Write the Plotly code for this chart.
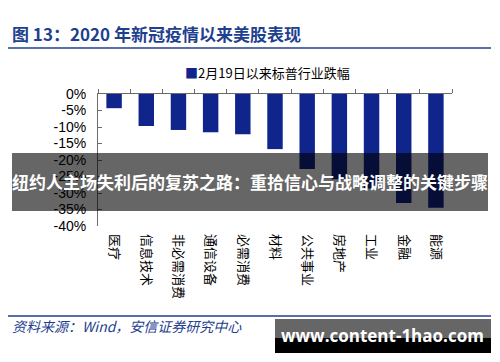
import plotly.graph_objects as go

categories = ["医疗", "信息技术", "非必需消费", "通信设备", "必需消费", "材料",
              "公共事业", "房地产", "工业", "金融", "能源"]
declines = [-4.3, -9.7, -10.9, -11.6, -12.2, -16.7, -22.7, -25.8, -28.6, -33.0, -34.5]
y_ticks = [0, -5, -10, -15, -20, -25, -30, -35, -40]
y_ticklabels = [f"{v}%" for v in y_ticks]
series_name = "2月19日以来标普行业跌幅"

W_FIG, H_FIG = 500, 362
L, R, T, B = 98, 48, 94, 136
PW, PH = W_FIG - L - R, H_FIG - T - B


def px(x):
    return (x - L) / PW


def py(y):
    return 1 - (y - T) / PH


BLUE = "#10258c"
DARK_BLUE = "#1f3f8f"
FONT = "Liberation Sans, Arial, Noto Sans CJK SC, sans-serif"
CJK = "Noto Sans CJK SC, sans-serif"

fig = go.Figure()
fig.add_trace(go.Bar(x=categories, y=declines, name=series_name,
                     marker=dict(color=BLUE, line=dict(width=0)),
                     showlegend=False))
# invisible trace carrying the zero-line category axis with boundary ticks
fig.add_trace(go.Bar(x=categories, y=declines, xaxis="x2", opacity=0,
                     hoverinfo="skip", showlegend=False))

fig.update_layout(
    width=W_FIG, height=H_FIG,
    margin=dict(l=L, r=R, t=T, b=B),
    paper_bgcolor="white", plot_bgcolor="white",
    bargap=0.52,
    font=dict(family=FONT, color="#000"),
    xaxis=dict(type="category", range=[-0.5, len(categories) - 0.5],
               showline=False, ticks="", showgrid=False, zeroline=False,
               tickangle=90, ticklabelstandoff=7,
               tickfont=dict(family=CJK, size=13, color="#000")),
    xaxis2=dict(type="category", range=[-0.5, len(categories) - 0.5],
                overlaying="x", anchor="y", side="top",
                showline=True, linecolor="#6b6b6b", linewidth=1,
                ticks="outside", tickson="boundaries", ticklen=4,
                tickcolor="#6b6b6b", showticklabels=False, showgrid=False,
                zeroline=False),
    yaxis=dict(range=[-40, 0], tickvals=y_ticks, ticktext=y_ticklabels,
               showline=True, linecolor="#6b6b6b", linewidth=1,
               ticks="inside", ticklen=4, tickcolor="#6b6b6b",
               showgrid=False, zeroline=False, ticklabelstandoff=8,
               tickfont=dict(family=FONT, size=14, color="#000")),
)

shapes = [
    # title underline
    dict(type="line", xref="paper", yref="paper", x0=px(8), x1=px(491),
         y0=py(48), y1=py(48), line=dict(color=DARK_BLUE, width=1.5)),
    # bottom rule
    dict(type="line", xref="paper", yref="paper", x0=px(8), x1=px(491),
         y0=py(316), y1=py(316), line=dict(color=DARK_BLUE, width=1.5)),
    # overlay band
    dict(type="rect", xref="paper", yref="paper", x0=px(12), x1=px(488),
         y0=py(211), y1=py(153), fillcolor="rgba(0,0,0,0.6)",
         line=dict(width=0), layer="above"),
    # watermark box
    dict(type="rect", xref="paper", yref="paper", x0=px(275), x1=px(491),
         y0=py(353), y1=py(338), fillcolor="#000000", line=dict(width=0),
         layer="above"),
    dict(type="rect", xref="paper", yref="paper", x0=px(275), x1=px(491),
         y0=py(338), y1=py(319), fillcolor="#666666", line=dict(width=0),
         layer="above"),
]
fig.update_layout(shapes=shapes)

annotations = [
    dict(text="<b>图 13：2020 年新冠疫情以来美股表现</b>", xref="paper", yref="paper",
         x=px(10), y=py(34), xanchor="left", yanchor="middle", showarrow=False,
         font=dict(family=CJK, size=17, color=DARK_BLUE)),
    dict(text=f"<span style='color:{BLUE}'>■</span>{series_name}",
         xref="paper", yref="paper", x=px(267), y=py(73),
         xanchor="center", yanchor="middle", showarrow=False,
         font=dict(family=CJK, size=13, color="#000")),
    dict(text="<i>资料来源：Wind，安信证券研究中心</i>", xref="paper", yref="paper",
         x=px(10), y=py(326), xanchor="left", yanchor="middle", showarrow=False,
         font=dict(family=CJK, size=14, color=DARK_BLUE)),
    dict(text="<b>纽约人主场失利后的复苏之路：重拾信心与战略调整的关键步骤</b>",
         xref="paper", yref="paper", x=px(250), y=py(181),
         xanchor="center", yanchor="middle", showarrow=False,
         font=dict(family=CJK, size=17, color="white")),
    dict(text="<b>www.content-1hao.com</b>", xref="paper", yref="paper",
         x=px(382), y=py(335), xanchor="center", yanchor="middle",
         showarrow=False,
         font=dict(family="Open Sans, DejaVu Sans, sans-serif", size=17,
                   color="white")),
]
fig.update_layout(annotations=annotations)

fig.write_html("out.html",
               config={"displayModeBar": False},
               post_script="document.body.style.margin='0';"
                           "document.body.style.overflow='hidden';")
